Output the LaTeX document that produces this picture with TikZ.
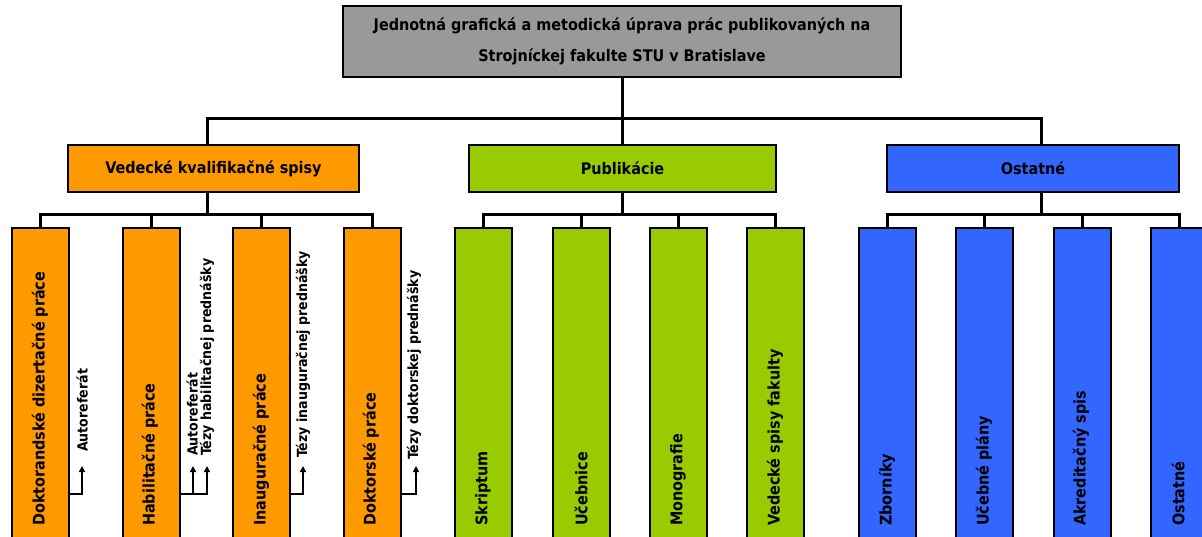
\documentclass[tikz,border=0pt]{standalone}
\usepackage{fontspec}
\newfontfamily\cf{DejaVu Sans Condensed}[BoldFont={DejaVu Sans Condensed Bold}]
\usetikzlibrary{arrows.meta}
\definecolor{cgray}{HTML}{999999}
\definecolor{corange}{HTML}{FF9900}
\definecolor{cgreen}{HTML}{99CC00}
\definecolor{cblue}{HTML}{3366FF}
\begin{document}
\begin{tikzpicture}[x=1pt,y=-1pt,
  box/.style={draw=black, line width=2pt, inner sep=0pt, font=\cf\bfseries\fontsize{16}{31}\selectfont, align=center},
  kid/.style={box, minimum width=57pt, minimum height=317pt},
  conn/.style={line width=3pt},
  arr/.style={line width=2pt, -{Triangle[width=6pt,length=6pt]}},
  vlab/.style={rotate=90, anchor=west, inner sep=0pt, font=\cf\bfseries\fontsize{16}{18}\selectfont},
  slab/.style={rotate=90, anchor=west, inner sep=0pt, font=\cf\bfseries\fontsize{14}{16}\selectfont}
]
\clip (0,0) rectangle (1202,536);
\fill[white] (0,0) rectangle (1202,536);
% root
\node[box, fill=cgray, minimum width=558pt, minimum height=71pt] (root) at (622,41.5)
  {Jednotná grafická a metodická úprava prác publikovaných na\\Strojníckej fakulte STU v Bratislave};
% level 2
\node[box, fill=corange, minimum width=291pt, minimum height=47pt] (vk) at (213.5,168.5) {Vedecké kvalifikačné spisy};
\node[box, fill=cgreen, minimum width=307pt, minimum height=47pt] (pu) at (622.5,168.5) {Publikácie};
\node[box, fill=cblue, minimum width=292pt, minimum height=47pt] (os) at (1033,168.5) {Ostatné};
% bus coordinates
\coordinate (b1) at (207,118);
\coordinate (b2) at (622,118);
\coordinate (b3) at (1041,118);
\draw[conn] (root.south) -- (b2);
\draw[conn] (vk.north -| b1) -- (b1) -- (b3) -- (os.north -| b3);
\draw[conn] (b2) -- (pu.north -| b2);
% children
\node[kid, fill=corange] (o1) at (40,386.5) {};
\node[kid, fill=corange] (o2) at (151,386.5) {};
\node[kid, fill=corange] (o3) at (261.5,386.5) {};
\node[kid, fill=corange] (o4) at (372.5,386.5) {};
\node[kid, fill=cgreen] (g1) at (483.5,386.5) {};
\node[kid, fill=cgreen] (g2) at (581,386.5) {};
\node[kid, fill=cgreen] (g3) at (678,386.5) {};
\node[kid, fill=cgreen] (g4) at (775,386.5) {};
\node[kid, fill=cblue] (u1) at (887,386.5) {};
\node[kid, fill=cblue] (u2) at (984.5,386.5) {};
\node[kid, fill=cblue] (u3) at (1082,386.5) {};
\node[kid, fill=cblue] (u4) at (1179,386.5) {};
% sub-buses
\coordinate (sb1) at (207,214);
\coordinate (sb2) at (622,214);
\coordinate (sb3) at (1041,214);
\draw[conn] (vk.south -| sb1) -- (sb1);
\draw[conn] (o1.north) -- (o1.north |- sb1) -- (o4.north |- sb1) -- (o4.north);
\draw[conn] (o2.north) -- (o2.north |- sb1);
\draw[conn] (o3.north) -- (o3.north |- sb1);
\draw[conn] (pu.south -| sb2) -- (sb2);
\draw[conn] (g1.north) -- (g1.north |- sb2) -- (g4.north |- sb2) -- (g4.north);
\draw[conn] (g2.north) -- (g2.north |- sb2);
\draw[conn] (g3.north) -- (g3.north |- sb2);
\draw[conn] (os.south -| sb3) -- (sb3);
\draw[conn] (u1.north) -- (u1.north |- sb3) -- (u4.north |- sb3) -- (u4.north);
\draw[conn] (u2.north) -- (u2.north |- sb3);
\draw[conn] (u3.north) -- (u3.north |- sb3);
% labels in children
\node[vlab] (t1) at (40,526) {Doktorandské dizertačné práce};
\node[vlab] (t2) at (150,526) {Habilitačné práce};
\node[vlab] (t3) at (261,526) {Inauguračné práce};
\node[vlab] (t4) at (371,526) {Doktorské práce};
\node[vlab] (t5) at (483,526) {Skriptum};
\node[vlab] (t6) at (581,526) {Učebnice};
\node[vlab] (t7) at (678,526) {Monografie};
\node[vlab] (t8) at (775,526) {Vedecké spisy fakulty};
\node[vlab] (t9) at (887,526) {Zborníky};
\node[vlab] (t10) at (984,526) {Učebné plány};
\node[vlab] (t11) at (1081,526) {Akreditačný spis};
\node[vlab] (t12) at (1178,526) {Ostatné};
% side documents
\coordinate (a1) at (82,466);
\coordinate (a2) at (193,466);
\coordinate (a3) at (207,466);
\coordinate (a4) at (303,466);
\coordinate (a5) at (416,466);
\draw[arr] (o1.east |- 0,494) -| (a1);
\draw[arr] (o2.east |- 0,494) -| (a2);
\draw[arr] (a2 |- 0,494) -| (a3);
\draw[arr] (o3.east |- 0,494) -| (a4);
\draw[arr] (o4.east |- 0,494) -| (a5);
\node[slab] (s1) at (82,452) {Autoreferát};
\node[slab] (s2) at (192,456) {Autoreferát};
\node[slab] (s3) at (207,456) {Tézy habilitačnej prednášky};
\node[slab] (s4) at (303,458) {Tézy inauguračnej prednášky};
\node[slab] (s5) at (414,460) {Tézy doktorskej prednášky};
\end{tikzpicture}
\end{document}
